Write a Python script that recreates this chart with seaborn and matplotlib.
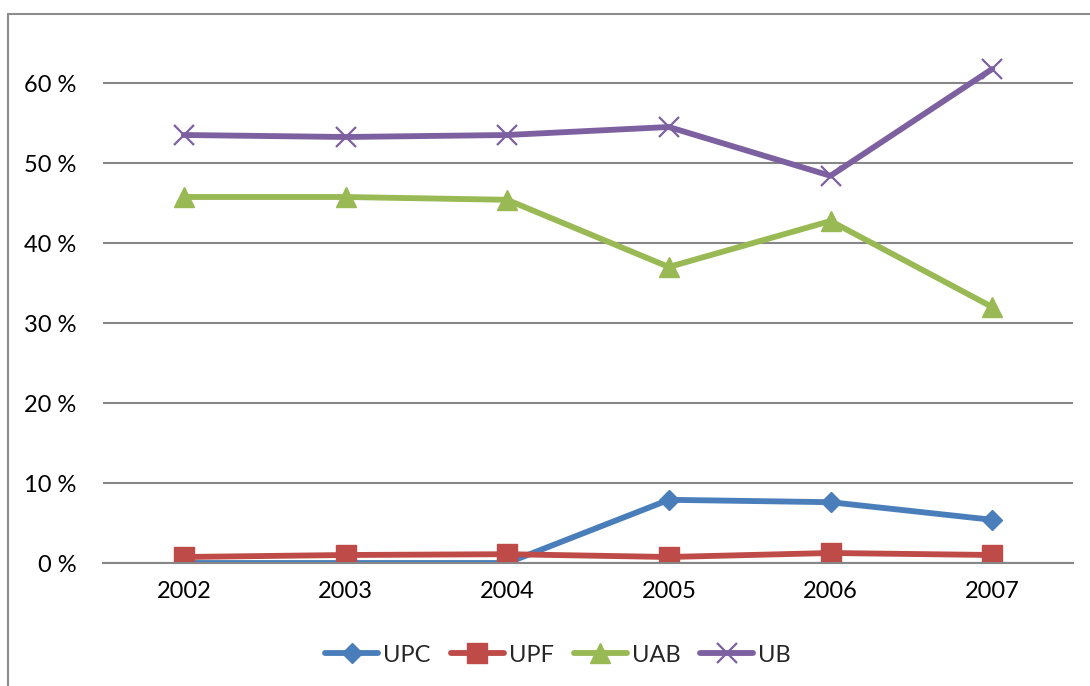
import matplotlib
matplotlib.use("Agg")
import matplotlib.pyplot as plt
import matplotlib.ticker as mticker
from matplotlib.patches import Rectangle
import seaborn as sns
import pandas as pd

years = ["2002", "2003", "2004", "2005", "2006", "2007"]
series_names = ["UPC", "UPF", "UAB", "UB"]
upc = [0.0, 0.0, 0.0, 7.9, 7.6, 5.4]
upf = [0.75, 1.0, 1.1, 0.75, 1.25, 1.0]
uab = [45.75, 45.75, 45.4, 37.0, 42.75, 32.0]
ub = [53.5, 53.25, 53.5, 54.5, 48.4, 61.75]
y_ticks = [0, 10, 20, 30, 40, 50, 60]

colors = {"UPC": "#4A7EBB", "UPF": "#BE4B48", "UAB": "#98B954", "UB": "#7D60A0"}
markers = {"UPC": "D", "UPF": "s", "UAB": "^", "UB": "x"}
msizes = {"UPC": 10, "UPF": 14, "UAB": 14, "UB": 14}

sns.set_theme(style="white")
plt.rcParams["font.family"] = ["Lato", "DejaVu Sans"]

fig = plt.figure(figsize=(10.9, 6.86), dpi=100)
W, H = 1090, 686
ax = fig.add_axes([103 / W, 1 - 563 / H, (1073 - 103) / W, (563 - 43) / H])

handles = []
for name, vals in zip(series_names, [upc, upf, uab, ub]):
    d = pd.DataFrame({"Year": years, "Value": vals})
    n_before = len(ax.lines)
    sns.lineplot(data=d, x="Year", y="Value", color=colors[name],
                 marker=markers[name], linewidth=4.2, legend=False, ax=ax)
    line = ax.lines[n_before]
    c = colors[name]
    line.set_markerfacecolor(c)
    line.set_markeredgecolor(c)
    line.set_markersize(msizes[name])
    line.set_markeredgewidth(1.6 if name == "UB" else 1.0)
    line.set_solid_capstyle("round")
    line.set_solid_joinstyle("round")
    handles.append(line)

ax.set_xlim(-0.5, 5.5)
ax.set_ylim(0, 65)
ax.set_yticks(y_ticks)
ax.yaxis.set_major_formatter(mticker.FuncFormatter(lambda v, p: f"{int(v)} %"))
ax.grid(axis="y", color="#868686", linewidth=1.5)
ax.set_axisbelow(True)
for s in ["top", "right", "left"]:
    ax.spines[s].set_visible(False)
ax.spines["bottom"].set_color("#868686")
ax.spines["bottom"].set_linewidth(1.5)
ax.set_xticks(range(len(years)))
ax.set_xticklabels(years)
ax.set_xticks([i - 0.5 for i in range(len(years) + 1)], minor=True)
ax.tick_params(axis="x", which="major", length=0, pad=13, labelsize=17, colors="black")
ax.tick_params(axis="x", which="minor", length=8, width=1.5, color="#868686", direction="out")
ax.tick_params(axis="y", length=0, pad=19, labelsize=17, colors="black")
ax.set_xlabel("")
ax.set_ylabel("")

fig.legend(handles=handles, labels=series_names, loc="center",
           bbox_to_anchor=(558 / W, 1 - 655 / H), ncol=4, frameon=False,
           fontsize=17, handlelength=2.25, columnspacing=0.85, handletextpad=0.2)

fig.patches.append(Rectangle((8 / W, -0.2), 2, (1 - 14 / H) + 0.2,
                             transform=fig.transFigure, fill=False,
                             edgecolor="#8c8c8c", linewidth=1.5))

fig.savefig("out.png", dpi=100)
